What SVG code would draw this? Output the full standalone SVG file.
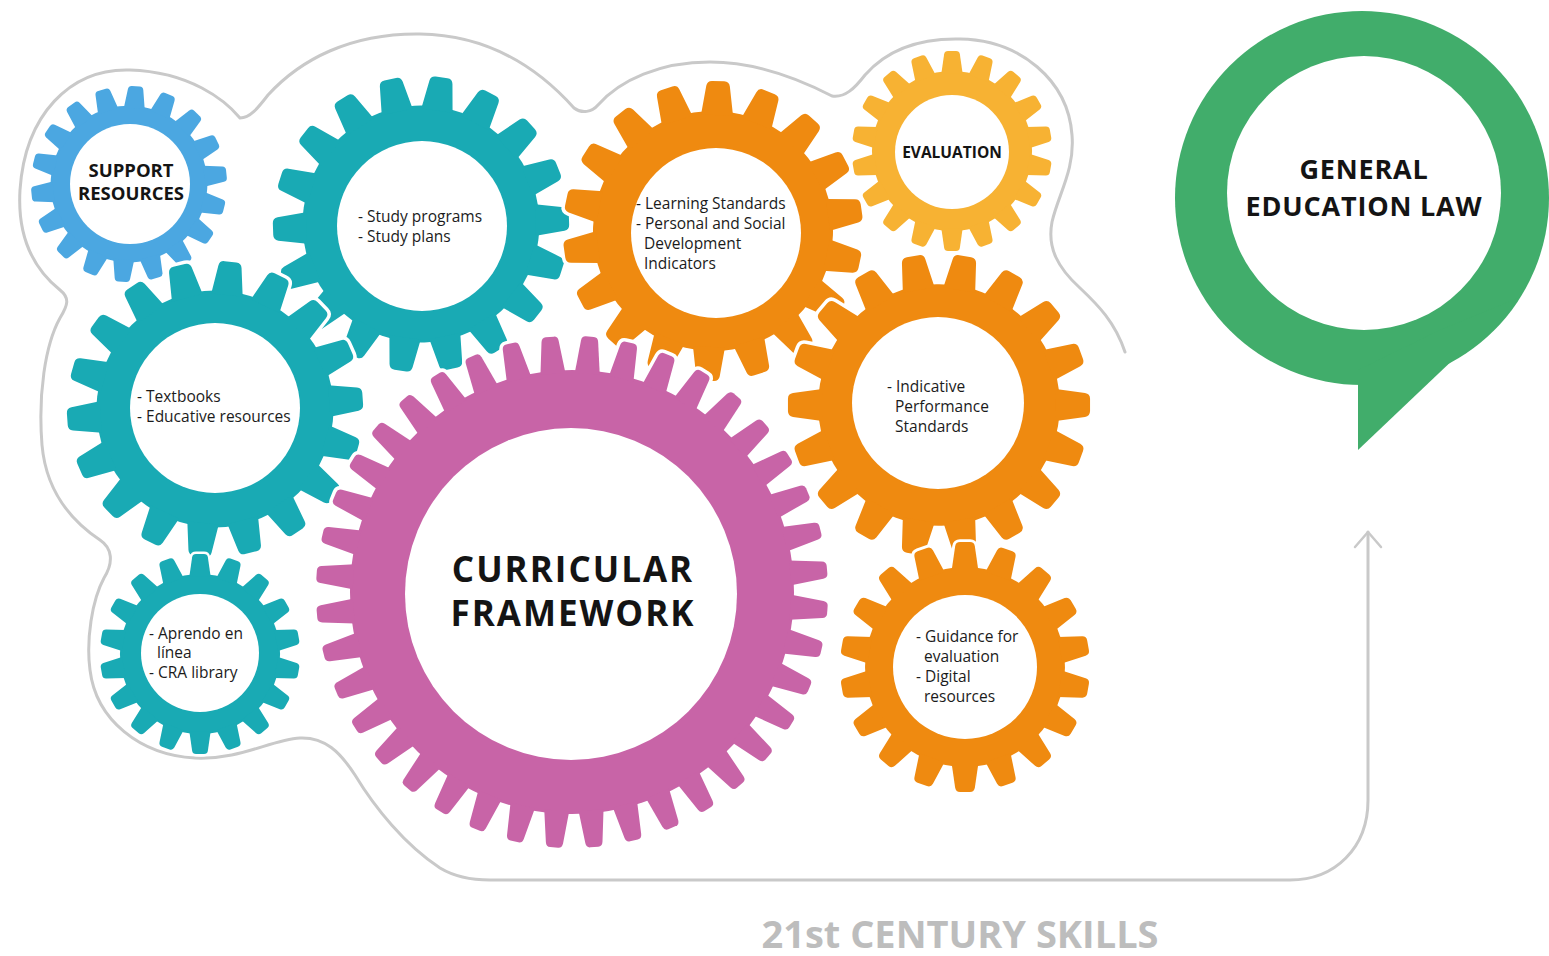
<svg xmlns="http://www.w3.org/2000/svg" xmlns:xlink="http://www.w3.org/1999/xlink" width="1549" height="956" viewBox="0 0 1549 956">
<style>
.halo{fill:#fff;stroke:#fff;stroke-width:7}
.hole{fill:#fff}
.t{font-family:"Open Sans","Noto Sans","Liberation Sans",sans-serif;font-size:15.5px;fill:#1b1b1b}
.h{font-family:"Open Sans","Noto Sans","Liberation Sans",sans-serif;font-weight:700;fill:#141414}
.line{fill:none;stroke:#c9c9c9;stroke-width:3;stroke-linecap:round;stroke-linejoin:round}
</style>
<defs>
<path id="t18" d="M-16,-116 L-11.8,-145 Q-11,-150 -6,-150 L6,-150 Q11,-150 11.8,-145 L16,-116 Z"/>
<g id="g18">
<circle r="120"/>
<use href="#t18"/><use href="#t18" transform="rotate(20)"/><use href="#t18" transform="rotate(40)"/><use href="#t18" transform="rotate(60)"/><use href="#t18" transform="rotate(80)"/><use href="#t18" transform="rotate(100)"/><use href="#t18" transform="rotate(120)"/><use href="#t18" transform="rotate(140)"/><use href="#t18" transform="rotate(160)"/><use href="#t18" transform="rotate(180)"/><use href="#t18" transform="rotate(200)"/><use href="#t18" transform="rotate(220)"/><use href="#t18" transform="rotate(240)"/><use href="#t18" transform="rotate(260)"/><use href="#t18" transform="rotate(280)"/><use href="#t18" transform="rotate(300)"/><use href="#t18" transform="rotate(320)"/><use href="#t18" transform="rotate(340)"/>
</g>
<path id="t40" d="M-12.5,-219 L-8.6,-251.5 Q-8,-256 -4,-256 L4,-256 Q8,-256 8.6,-251.5 L12.5,-219 Z"/>
<g id="g40">
<circle r="222"/>
<use href="#t40"/><use href="#t40" transform="rotate(9)"/><use href="#t40" transform="rotate(18)"/><use href="#t40" transform="rotate(27)"/><use href="#t40" transform="rotate(36)"/><use href="#t40" transform="rotate(45)"/><use href="#t40" transform="rotate(54)"/><use href="#t40" transform="rotate(63)"/><use href="#t40" transform="rotate(72)"/><use href="#t40" transform="rotate(81)"/><use href="#t40" transform="rotate(90)"/><use href="#t40" transform="rotate(99)"/><use href="#t40" transform="rotate(108)"/><use href="#t40" transform="rotate(117)"/><use href="#t40" transform="rotate(126)"/><use href="#t40" transform="rotate(135)"/><use href="#t40" transform="rotate(144)"/><use href="#t40" transform="rotate(153)"/><use href="#t40" transform="rotate(162)"/><use href="#t40" transform="rotate(171)"/><use href="#t40" transform="rotate(180)"/><use href="#t40" transform="rotate(189)"/><use href="#t40" transform="rotate(198)"/><use href="#t40" transform="rotate(207)"/><use href="#t40" transform="rotate(216)"/><use href="#t40" transform="rotate(225)"/><use href="#t40" transform="rotate(234)"/><use href="#t40" transform="rotate(243)"/><use href="#t40" transform="rotate(252)"/><use href="#t40" transform="rotate(261)"/><use href="#t40" transform="rotate(270)"/><use href="#t40" transform="rotate(279)"/><use href="#t40" transform="rotate(288)"/><use href="#t40" transform="rotate(297)"/><use href="#t40" transform="rotate(306)"/><use href="#t40" transform="rotate(315)"/><use href="#t40" transform="rotate(324)"/><use href="#t40" transform="rotate(333)"/><use href="#t40" transform="rotate(342)"/><use href="#t40" transform="rotate(351)"/>
</g>
<marker id="chev" viewBox="-18 -16 22 32" refX="0" refY="0" markerWidth="22" markerHeight="32" markerUnits="userSpaceOnUse" orient="auto">
<path d="M-15,-13 L0,0 L-15,13" fill="none" stroke="#c9c9c9" stroke-width="2.5" stroke-linecap="round" stroke-linejoin="round"/>
</marker>
</defs>
<rect width="1549" height="956" fill="#fff"/>

<g id="connectors">
<path class="line" marker-end="url(#chev)" d="M1125,352 C1115,322 1098,305 1080,288 C1058,268 1047,248 1052,222 C1058,195 1075,170 1072,135 C1068,80 1020,40 960,39 C915,38 885,52 865,75 C855,88 845,98 832,96 C805,82 760,62 710,62 C660,62 620,80 598,105 C592,112 582,114 574,108 C540,70 490,35 420,34 C350,33 300,60 268,95 C258,108 250,118 240,118 C225,100 190,72 130,70 C70,68 25,115 20,190 C17,240 35,270 60,290 C70,298 68,305 60,318 C45,345 38,395 42,445 C46,490 70,520 100,540 C112,548 114,562 104,578 C92,600 86,640 90,670 C96,720 140,755 195,758 C240,760 270,740 300,738 C325,737 340,752 355,775 C375,808 405,845 440,868 C455,877 470,880 490,880 L1290,880 C1335,880 1368,848 1368,800 L1368,532"/>
</g>

<g id="support-resources">
<use href="#g18" class="halo" transform="translate(129,184) rotate(4) scale(0.653)"/>
<use href="#g18" fill="#4ba7e1" transform="translate(129,184) rotate(4) scale(0.653)"/>
<circle class="hole" cx="130" cy="184" r="60"/>
<text class="h" font-size="18.5" text-anchor="middle"><tspan x="131" y="177">SUPPORT</tspan><tspan x="131" y="200">RESOURCES</tspan></text>
</g>

<g id="study-programs">
<use href="#g18" class="halo" transform="translate(421,224) rotate(8) scale(0.987)"/>
<use href="#g18" fill="#19aab4" transform="translate(421,224) rotate(8) scale(0.987)"/>
<circle class="hole" cx="422" cy="226" r="85"/>
<text class="t"><tspan x="358" y="222">- Study programs</tspan><tspan x="358" y="242">- Study plans</tspan></text>
</g>

<g id="learning-standards">
<use href="#g18" class="halo" transform="translate(713,231) rotate(2)"/>
<use href="#g18" fill="#ef8a10" transform="translate(713,231) rotate(2)"/>
<circle class="hole" cx="716" cy="233" r="85"/>
<text class="t"><tspan x="636" y="209">- Learning Standards</tspan><tspan x="636" y="229">- Personal and Social</tspan><tspan x="644" y="249">Development</tspan><tspan x="644" y="269">Indicators</tspan></text>
</g>

<g id="evaluation">
<use href="#g18" class="halo" transform="translate(952,151) rotate(0) scale(0.667)"/>
<use href="#g18" fill="#f7b233" transform="translate(952,151) rotate(0) scale(0.667)"/>
<circle class="hole" cx="952" cy="152" r="57"/>
<text class="h" font-size="15.5" text-anchor="middle" x="952" y="158">EVALUATION</text>
</g>

<g id="textbooks">
<use href="#g18" class="halo" transform="translate(215,409) rotate(6) scale(0.987)"/>
<use href="#g18" fill="#19aab4" transform="translate(215,409) rotate(6) scale(0.987)"/>
<circle class="hole" cx="215" cy="408" r="85"/>
<text class="t"><tspan x="137" y="402">- Textbooks</tspan><tspan x="137" y="422">- Educative resources</tspan></text>
</g>

<g id="indicative-performance">
<use href="#g18" class="halo" transform="translate(939,405) rotate(10) scale(1.007)"/>
<use href="#g18" fill="#ef8a10" transform="translate(939,405) rotate(10) scale(1.007)"/>
<circle class="hole" cx="938" cy="403" r="86"/>
<text class="t"><tspan x="887" y="392">- Indicative</tspan><tspan x="895" y="412">Performance</tspan><tspan x="895" y="432">Standards</tspan></text>
</g>

<g id="aprendo-en-linea">
<use href="#g18" class="halo" transform="translate(200,654) rotate(0) scale(0.667)"/>
<use href="#g18" fill="#19aab4" transform="translate(200,654) rotate(0) scale(0.667)"/>
<circle class="hole" cx="200" cy="653" r="59"/>
<text class="t"><tspan x="149" y="639">- Aprendo en</tspan><tspan x="157" y="658">línea</tspan><tspan x="149" y="678">- CRA library</tspan></text>
</g>

<g id="guidance-evaluation">
<use href="#g18" class="halo" transform="translate(965,667) rotate(0) scale(0.833)"/>
<use href="#g18" fill="#ef8a10" transform="translate(965,667) rotate(0) scale(0.833)"/>
<circle class="hole" cx="965" cy="667" r="72"/>
<text class="t"><tspan x="916" y="642">- Guidance for</tspan><tspan x="924" y="662">evaluation</tspan><tspan x="916" y="682">- Digital</tspan><tspan x="924" y="702">resources</tspan></text>
</g>

<g id="curricular-framework">
<use href="#g40" class="halo" transform="translate(572,592) rotate(4)"/>
<use href="#g40" fill="#c864a7" transform="translate(572,592) rotate(4)"/>
<circle class="hole" cx="571" cy="594" r="166"/>
<text class="h" font-size="35" letter-spacing="2" text-anchor="middle"><tspan x="573" y="582">CURRICULAR</tspan><tspan x="573" y="626">FRAMEWORK</tspan></text>
</g>

<g id="general-education-law">
<circle cx="1362" cy="198" r="187" fill="#41ad6b"/>
<polygon points="1358,370 1358,450 1518,298 1440,330" fill="#41ad6b"/>
<circle class="hole" cx="1364" cy="193" r="137"/>
<text class="h" font-size="27" letter-spacing="0.8" text-anchor="middle"><tspan x="1364" y="179">GENERAL</tspan><tspan x="1364" y="216">EDUCATION LAW</tspan></text>
</g>

<g id="century-skills">
<text class="h" font-size="38" text-anchor="middle" x="960" y="948" style="fill:#bdbdbd">21st CENTURY SKILLS</text>
</g>
</svg>
